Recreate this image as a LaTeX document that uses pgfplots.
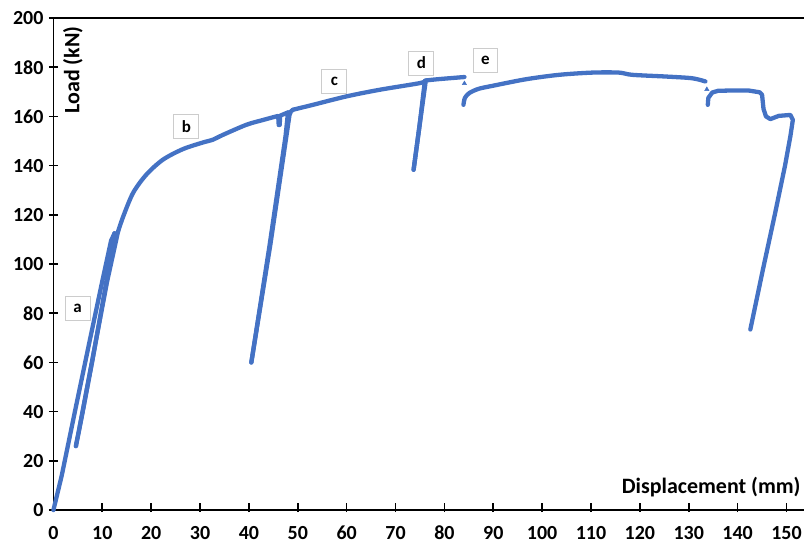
\documentclass[border=0pt]{standalone}
\usepackage{fontspec}
\setmainfont{Carlito}
\usepackage{pgfplots}
\pgfplotsset{compat=1.18}
\definecolor{xblue}{RGB}{68,114,196}
\tikzset{curve/.style={xblue, mark=none, line width=4.3pt, line join=round, line cap=round}}
\begin{document}
\begin{tikzpicture}
\begin{axis}[
  scale only axis, width=751.5pt, height=493pt,
  xmin=0, xmax=153.5, ymin=0, ymax=200,
  axis x line*=bottom, axis y line*=left,
  axis line style={line width=1.6pt, -},
  xtick={0,10,...,150}, ytick={0,20,...,200},
  tick align=center, major tick length=9pt,
  tick style={line width=1.6pt, black},
  xtick style={yshift=2.5pt},
  /pgf/number format/assume math mode=true,
  tick label style={font=\fontsize{20}{24}\selectfont\bfseries},
  xticklabel style={yshift=-8pt},
  yticklabel style={xshift=-2pt},
  clip=false,
]
\coordinate (BL) at (rel axis cs:0,0);
\coordinate (TR) at (rel axis cs:1,1);
\draw[line width=1.6pt] (rel axis cs:0,1) -- (rel axis cs:1,1);

% initial loading
\addplot[curve] coordinates {(0,0) (1.7,14) (4.5,41) (7.5,69.5) (10,93) (11.8,109.5) (12.5,112.5)};
% first unloading and reloading
\addplot[curve] coordinates {(12.5,112.5) (10.5,89) (8,61) (6,40) (4.6,26)};
\addplot[curve] coordinates {(4.6,26) (5.2,32) (7,51) (9,72) (11,93) (12.6,107.5) (13.2,113)};
% main curve up to second unloading
\addplot[curve, smooth, tension=0.5] coordinates {(13.2,113) (14.3,119.4) (16.3,128.9) (19.0,136.3) (22.4,142.4) (26.5,146.7) (30.6,149.4) (32.6,150.5) (34.7,152.5) (39.5,156.6) (43,158.6) (45.6,160) (46.0,160.1)};
\addplot[curve] coordinates {(46.0,160.1) (46.1,156.5) (46.3,156.5) (46.4,160.3) (47.6,161.3) (48.0,161.6)};
\addplot[curve] coordinates {(48.0,161.6) (47.5,152) (44.2,107.2) (40.5,60)};
\addplot[curve] coordinates {(40.5,60) (44.4,108) (47.9,155) (48.3,160.5) (48.6,162) (49.0,162.7)};
% curve up to third unloading
\addplot[curve, smooth, tension=0.5] coordinates {(49.0,162.7) (53.1,164.7) (59.9,168.1) (66.7,170.8) (74.9,173.5) (76.0,174.4)};
\addplot[curve] coordinates {(76.0,174.4) (74.9,156) (73.7,138.3)};
\addplot[curve] coordinates {(73.7,138.3) (74.9,156) (76.2,174.6)};
\addplot[curve, smooth, tension=0.5] coordinates {(76.2,174.6) (78.6,175.1) (84.1,176)};
\addplot[xblue, only marks, mark=triangle*, mark size=2.5pt] coordinates {(84.1,173.4)};
% after gap
\addplot[curve, smooth, tension=0.5] coordinates {(83.9,164.7) (84.2,167.5) (85.1,169.5) (87,171.2) (89.8,172.4) (96.7,175.1) (103.5,176.9) (110.3,177.8) (115.7,177.8) (118.4,176.9) (125.3,176.2) (130.7,175.5) (133.4,174.2)};
\addplot[xblue, only marks, mark=triangle*, mark size=2.5pt] coordinates {(133.7,171)};
\addplot[curve] coordinates {(133.9,164.7) (134.0,167.5) (134.8,169.7) (136,170.4) (138.2,170.5) (142.3,170.5) (144.5,169.8) (145.0,168.8) (145.3,163) (145.8,160) (146.7,158.9) (148.4,160.2) (150.8,160.6) (151.3,158.6) (150.8,152) (149.7,140) (147.6,120) (145.2,98) (142.6,73.4)};

\tikzset{lab/.style={draw=black!20, line width=0.9pt, fill=white, minimum width=25pt, minimum height=24pt, inner sep=0pt, font=\fontsize{17}{19}\selectfont\bfseries}}
\node[lab] at (axis cs:4.96,82.1) {a};
\node[lab] at (axis cs:27.2,155.8) {b};
\node[lab] at (axis cs:57.5,174.3) {c};
\node[lab] at (axis cs:75.3,181.7) {d};
\node[lab] at (axis cs:88.4,182.6) {e};

\node[rotate=90, font=\fontsize{22}{26}\selectfont\bfseries] at (axis cs:4.0,178.9) {Load (kN)};
\node[anchor=base, font=\fontsize{22}{26}\selectfont\bfseries] at (axis cs:134.6,6.9) {Displacement (mm)};
\end{axis}
\path (BL) ++(-53.5pt,-32pt);
\path (TR) ++(0pt,18pt);
\end{tikzpicture}
\end{document}
